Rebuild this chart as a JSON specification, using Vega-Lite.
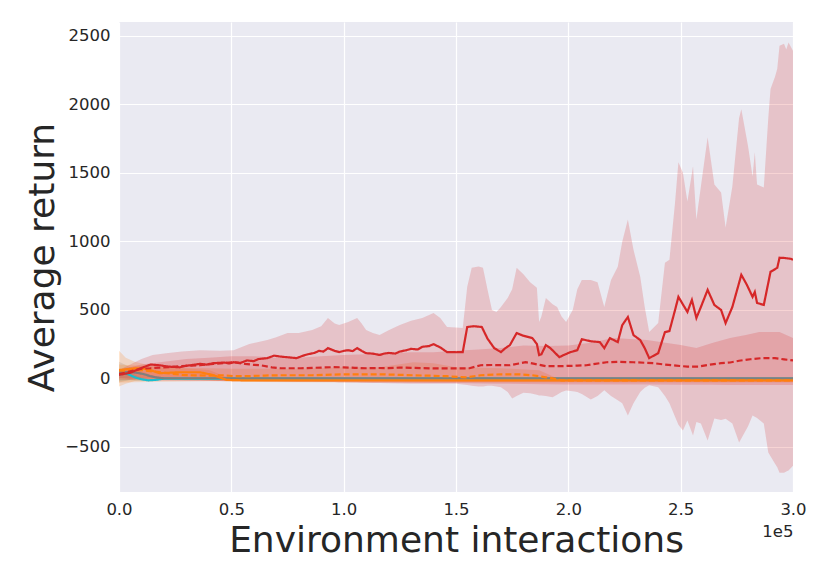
{
  "$schema": "https://vega.github.io/schema/vega-lite/v6.json",
  "width": 674,
  "height": 470,
  "autosize": {"type": "none"},
  "padding": {"left": 119, "top": 22, "right": 37, "bottom": 89},
  "background": "white",
  "datasets": {
    "bands": [
      {"s": "cyan", "x": 0.0, "lo": -20, "hi": 70},
      {"s": "cyan", "x": 0.05, "lo": -15, "hi": 40},
      {"s": "cyan", "x": 0.1, "lo": -20, "hi": 5},
      {"s": "cyan", "x": 0.15, "lo": -20, "hi": -8},
      {"s": "cyan", "x": 0.2, "lo": -5, "hi": 2},
      {"s": "cyan", "x": 3.0, "lo": -3, "hi": 3},
      {"s": "gray", "x": 0.0, "lo": -30, "hi": 120},
      {"s": "gray", "x": 0.05, "lo": -10, "hi": 80},
      {"s": "gray", "x": 0.1, "lo": 0, "hi": 50},
      {"s": "gray", "x": 0.15, "lo": -5, "hi": 20},
      {"s": "gray", "x": 0.2, "lo": -5, "hi": 5},
      {"s": "gray", "x": 3.0, "lo": -4, "hi": 4},
      {"s": "orange solid", "x": 0.0, "lo": -60, "hi": 200},
      {"s": "orange solid", "x": 0.03, "lo": -40, "hi": 150},
      {"s": "orange solid", "x": 0.07, "lo": -20, "hi": 120},
      {"s": "orange solid", "x": 0.12, "lo": -10, "hi": 100},
      {"s": "orange solid", "x": 0.18, "lo": -10, "hi": 80},
      {"s": "orange solid", "x": 0.25, "lo": -10, "hi": 75},
      {"s": "orange solid", "x": 0.32, "lo": -10, "hi": 70},
      {"s": "orange solid", "x": 0.4, "lo": -15, "hi": 60},
      {"s": "orange solid", "x": 0.45, "lo": -20, "hi": 30},
      {"s": "orange solid", "x": 0.5, "lo": -25, "hi": 0},
      {"s": "orange solid", "x": 0.6, "lo": -28, "hi": -5},
      {"s": "orange solid", "x": 1.0, "lo": -30, "hi": -5},
      {"s": "orange solid", "x": 2.0, "lo": -30, "hi": -5},
      {"s": "orange solid", "x": 3.0, "lo": -30, "hi": -5},
      {"s": "orange dashed", "x": 0.0, "lo": -30, "hi": 100},
      {"s": "orange dashed", "x": 0.2, "lo": -25, "hi": 80},
      {"s": "orange dashed", "x": 0.5, "lo": -20, "hi": 70},
      {"s": "orange dashed", "x": 0.8, "lo": -20, "hi": 70},
      {"s": "orange dashed", "x": 1.0, "lo": -20, "hi": 80},
      {"s": "orange dashed", "x": 1.16, "lo": -20, "hi": 81},
      {"s": "orange dashed", "x": 1.31, "lo": -22, "hi": 117},
      {"s": "orange dashed", "x": 1.4, "lo": -22, "hi": 110},
      {"s": "orange dashed", "x": 1.5, "lo": -25, "hi": 80},
      {"s": "orange dashed", "x": 1.7, "lo": -25, "hi": 73},
      {"s": "orange dashed", "x": 1.87, "lo": -25, "hi": 59},
      {"s": "orange dashed", "x": 1.95, "lo": -25, "hi": 0},
      {"s": "orange dashed", "x": 3.0, "lo": -25, "hi": -5},
      {"s": "red dashed", "x": 0.0, "lo": -10, "hi": 60},
      {"s": "red dashed", "x": 0.1, "lo": -15, "hi": 100},
      {"s": "red dashed", "x": 0.2, "lo": -18, "hi": 120},
      {"s": "red dashed", "x": 0.3, "lo": -20, "hi": 140},
      {"s": "red dashed", "x": 0.4, "lo": -20, "hi": 150},
      {"s": "red dashed", "x": 0.5, "lo": -22, "hi": 160},
      {"s": "red dashed", "x": 0.6, "lo": -22, "hi": 160},
      {"s": "red dashed", "x": 0.7, "lo": -24, "hi": 150},
      {"s": "red dashed", "x": 0.8, "lo": -25, "hi": 150},
      {"s": "red dashed", "x": 0.9, "lo": -26, "hi": 160},
      {"s": "red dashed", "x": 1.0, "lo": -28, "hi": 170},
      {"s": "red dashed", "x": 1.1, "lo": -30, "hi": 175},
      {"s": "red dashed", "x": 1.2, "lo": -30, "hi": 180},
      {"s": "red dashed", "x": 1.3, "lo": -32, "hi": 190},
      {"s": "red dashed", "x": 1.4, "lo": -34, "hi": 190},
      {"s": "red dashed", "x": 1.5, "lo": -35, "hi": 200},
      {"s": "red dashed", "x": 1.6, "lo": -38, "hi": 210},
      {"s": "red dashed", "x": 1.7, "lo": -40, "hi": 220},
      {"s": "red dashed", "x": 1.8, "lo": -42, "hi": 240},
      {"s": "red dashed", "x": 1.9, "lo": -44, "hi": 235},
      {"s": "red dashed", "x": 2.0, "lo": -45, "hi": 240},
      {"s": "red dashed", "x": 2.1, "lo": -45, "hi": 260},
      {"s": "red dashed", "x": 2.2, "lo": -46, "hi": 293},
      {"s": "red dashed", "x": 2.35, "lo": -46, "hi": 279},
      {"s": "red dashed", "x": 2.5, "lo": -48, "hi": 242},
      {"s": "red dashed", "x": 2.57, "lo": -48, "hi": 220},
      {"s": "red dashed", "x": 2.64, "lo": -48, "hi": 257},
      {"s": "red dashed", "x": 2.72, "lo": -50, "hi": 293},
      {"s": "red dashed", "x": 2.79, "lo": -50, "hi": 315},
      {"s": "red dashed", "x": 2.85, "lo": -50, "hi": 337},
      {"s": "red dashed", "x": 2.94, "lo": -50, "hi": 337},
      {"s": "red dashed", "x": 3.0, "lo": -50, "hi": 293},
      {"s": "red solid", "x": 0.0, "lo": 0, "hi": 60},
      {"s": "red solid", "x": 0.05, "lo": -5, "hi": 100},
      {"s": "red solid", "x": 0.1, "lo": -8, "hi": 140},
      {"s": "red solid", "x": 0.15, "lo": -10, "hi": 170},
      {"s": "red solid", "x": 0.21, "lo": -10, "hi": 183},
      {"s": "red solid", "x": 0.28, "lo": -12, "hi": 195},
      {"s": "red solid", "x": 0.36, "lo": -15, "hi": 205},
      {"s": "red solid", "x": 0.45, "lo": -18, "hi": 200},
      {"s": "red solid", "x": 0.51, "lo": -20, "hi": 205},
      {"s": "red solid", "x": 0.58, "lo": -20, "hi": 250},
      {"s": "red solid", "x": 0.66, "lo": -22, "hi": 279},
      {"s": "red solid", "x": 0.7, "lo": -22, "hi": 300},
      {"s": "red solid", "x": 0.75, "lo": -24, "hi": 330},
      {"s": "red solid", "x": 0.8, "lo": -25, "hi": 330},
      {"s": "red solid", "x": 0.86, "lo": -26, "hi": 352},
      {"s": "red solid", "x": 0.9, "lo": -28, "hi": 380},
      {"s": "red solid", "x": 0.93, "lo": -28, "hi": 440},
      {"s": "red solid", "x": 0.96, "lo": -28, "hi": 400},
      {"s": "red solid", "x": 0.98, "lo": -30, "hi": 389},
      {"s": "red solid", "x": 1.02, "lo": -30, "hi": 410},
      {"s": "red solid", "x": 1.06, "lo": -30, "hi": 440},
      {"s": "red solid", "x": 1.08, "lo": -32, "hi": 400},
      {"s": "red solid", "x": 1.1, "lo": -32, "hi": 352},
      {"s": "red solid", "x": 1.13, "lo": -34, "hi": 330},
      {"s": "red solid", "x": 1.16, "lo": -35, "hi": 315},
      {"s": "red solid", "x": 1.2, "lo": -36, "hi": 350},
      {"s": "red solid", "x": 1.25, "lo": -38, "hi": 389},
      {"s": "red solid", "x": 1.3, "lo": -40, "hi": 420},
      {"s": "red solid", "x": 1.35, "lo": -40, "hi": 440},
      {"s": "red solid", "x": 1.4, "lo": -40, "hi": 476},
      {"s": "red solid", "x": 1.43, "lo": -40, "hi": 440},
      {"s": "red solid", "x": 1.46, "lo": -40, "hi": 374},
      {"s": "red solid", "x": 1.5, "lo": -40, "hi": 370},
      {"s": "red solid", "x": 1.53, "lo": -45, "hi": 367},
      {"s": "red solid", "x": 1.55, "lo": -50, "hi": 667},
      {"s": "red solid", "x": 1.57, "lo": -55, "hi": 806},
      {"s": "red solid", "x": 1.6, "lo": -60, "hi": 815},
      {"s": "red solid", "x": 1.62, "lo": -60, "hi": 806},
      {"s": "red solid", "x": 1.64, "lo": -55, "hi": 650},
      {"s": "red solid", "x": 1.66, "lo": -55, "hi": 498},
      {"s": "red solid", "x": 1.68, "lo": -60, "hi": 484},
      {"s": "red solid", "x": 1.7, "lo": -66, "hi": 520},
      {"s": "red solid", "x": 1.73, "lo": -100, "hi": 586},
      {"s": "red solid", "x": 1.75, "lo": -147, "hi": 650},
      {"s": "red solid", "x": 1.77, "lo": -130, "hi": 806},
      {"s": "red solid", "x": 1.8, "lo": -105, "hi": 760},
      {"s": "red solid", "x": 1.83, "lo": -110, "hi": 700},
      {"s": "red solid", "x": 1.86, "lo": -120, "hi": 660},
      {"s": "red solid", "x": 1.87, "lo": -125, "hi": 411},
      {"s": "red solid", "x": 1.88, "lo": -125, "hi": 450},
      {"s": "red solid", "x": 1.9, "lo": -130, "hi": 586},
      {"s": "red solid", "x": 1.93, "lo": -139, "hi": 540},
      {"s": "red solid", "x": 1.95, "lo": -120, "hi": 520},
      {"s": "red solid", "x": 1.97, "lo": -100, "hi": 450},
      {"s": "red solid", "x": 1.99, "lo": -90, "hi": 411},
      {"s": "red solid", "x": 2.02, "lo": -95, "hi": 500},
      {"s": "red solid", "x": 2.04, "lo": -100, "hi": 650},
      {"s": "red solid", "x": 2.06, "lo": -115, "hi": 718},
      {"s": "red solid", "x": 2.1, "lo": -155, "hi": 718},
      {"s": "red solid", "x": 2.13, "lo": -130, "hi": 700},
      {"s": "red solid", "x": 2.16, "lo": -88, "hi": 520},
      {"s": "red solid", "x": 2.19, "lo": -130, "hi": 718},
      {"s": "red solid", "x": 2.22, "lo": -160, "hi": 814},
      {"s": "red solid", "x": 2.24, "lo": -183, "hi": 997},
      {"s": "red solid", "x": 2.265, "lo": -271, "hi": 1158},
      {"s": "red solid", "x": 2.29, "lo": -183, "hi": 938},
      {"s": "red solid", "x": 2.32, "lo": -100, "hi": 740},
      {"s": "red solid", "x": 2.34, "lo": -70, "hi": 520},
      {"s": "red solid", "x": 2.36, "lo": -51, "hi": 337},
      {"s": "red solid", "x": 2.4, "lo": -66, "hi": 403},
      {"s": "red solid", "x": 2.43, "lo": -130, "hi": 843},
      {"s": "red solid", "x": 2.45, "lo": -183, "hi": 865},
      {"s": "red solid", "x": 2.475, "lo": -280, "hi": 1283},
      {"s": "red solid", "x": 2.49, "lo": -340, "hi": 1576},
      {"s": "red solid", "x": 2.51, "lo": -381, "hi": 1500},
      {"s": "red solid", "x": 2.53, "lo": -308, "hi": 1290},
      {"s": "red solid", "x": 2.555, "lo": -418, "hi": 1547},
      {"s": "red solid", "x": 2.57, "lo": -320, "hi": 1158},
      {"s": "red solid", "x": 2.59, "lo": -330, "hi": 1400},
      {"s": "red solid", "x": 2.62, "lo": -454, "hi": 1759},
      {"s": "red solid", "x": 2.65, "lo": -293, "hi": 1415},
      {"s": "red solid", "x": 2.68, "lo": -305, "hi": 1356},
      {"s": "red solid", "x": 2.7, "lo": -295, "hi": 1100},
      {"s": "red solid", "x": 2.73, "lo": -330, "hi": 1400},
      {"s": "red solid", "x": 2.76, "lo": -469, "hi": 1900},
      {"s": "red solid", "x": 2.77, "lo": -440, "hi": 1964},
      {"s": "red solid", "x": 2.8, "lo": -350, "hi": 1693},
      {"s": "red solid", "x": 2.82, "lo": -271, "hi": 1473},
      {"s": "red solid", "x": 2.83, "lo": -280, "hi": 1650},
      {"s": "red solid", "x": 2.84, "lo": -290, "hi": 1415},
      {"s": "red solid", "x": 2.87, "lo": -330, "hi": 1393},
      {"s": "red solid", "x": 2.89, "lo": -542, "hi": 1900},
      {"s": "red solid", "x": 2.9, "lo": -570, "hi": 2111},
      {"s": "red solid", "x": 2.92, "lo": -623, "hi": 2200},
      {"s": "red solid", "x": 2.93, "lo": -650, "hi": 2258},
      {"s": "red solid", "x": 2.94, "lo": -689, "hi": 2427},
      {"s": "red solid", "x": 2.96, "lo": -690, "hi": 2441},
      {"s": "red solid", "x": 2.97, "lo": -680, "hi": 2400},
      {"s": "red solid", "x": 2.98, "lo": -674, "hi": 2450},
      {"s": "red solid", "x": 3.0, "lo": -638, "hi": 2390}
    ],
    "lines": [
      {"s": "cyan", "x": 0.0, "y": 25},
      {"s": "cyan", "x": 0.02, "y": 35},
      {"s": "cyan", "x": 0.04, "y": 30},
      {"s": "cyan", "x": 0.07, "y": 7},
      {"s": "cyan", "x": 0.1, "y": -7},
      {"s": "cyan", "x": 0.13, "y": -15},
      {"s": "cyan", "x": 0.16, "y": -12},
      {"s": "cyan", "x": 0.2, "y": -3},
      {"s": "cyan", "x": 3.0, "y": -3},
      {"s": "gray", "x": 0.0, "y": 45},
      {"s": "gray", "x": 0.05, "y": 45},
      {"s": "gray", "x": 0.08, "y": 40},
      {"s": "gray", "x": 0.11, "y": 30},
      {"s": "gray", "x": 0.14, "y": 15},
      {"s": "gray", "x": 0.17, "y": 5},
      {"s": "gray", "x": 0.2, "y": 0},
      {"s": "gray", "x": 3.0, "y": 0},
      {"s": "orange dashed", "x": 0.0, "y": 55},
      {"s": "orange dashed", "x": 0.1, "y": 60},
      {"s": "orange dashed", "x": 0.2, "y": 40},
      {"s": "orange dashed", "x": 0.28, "y": 25},
      {"s": "orange dashed", "x": 0.32, "y": 22},
      {"s": "orange dashed", "x": 0.4, "y": 20},
      {"s": "orange dashed", "x": 0.46, "y": 22},
      {"s": "orange dashed", "x": 0.52, "y": 15},
      {"s": "orange dashed", "x": 0.57, "y": 15},
      {"s": "orange dashed", "x": 0.65, "y": 20},
      {"s": "orange dashed", "x": 0.72, "y": 22},
      {"s": "orange dashed", "x": 0.86, "y": 22},
      {"s": "orange dashed", "x": 1.01, "y": 29},
      {"s": "orange dashed", "x": 1.16, "y": 29},
      {"s": "orange dashed", "x": 1.25, "y": 25},
      {"s": "orange dashed", "x": 1.31, "y": 22},
      {"s": "orange dashed", "x": 1.4, "y": 18},
      {"s": "orange dashed", "x": 1.46, "y": 15},
      {"s": "orange dashed", "x": 1.52, "y": 8},
      {"s": "orange dashed", "x": 1.55, "y": 7},
      {"s": "orange dashed", "x": 1.58, "y": 15},
      {"s": "orange dashed", "x": 1.61, "y": 22},
      {"s": "orange dashed", "x": 1.7, "y": 29},
      {"s": "orange dashed", "x": 1.78, "y": 29},
      {"s": "orange dashed", "x": 1.84, "y": 22},
      {"s": "orange dashed", "x": 1.87, "y": 15},
      {"s": "orange dashed", "x": 1.9, "y": 7},
      {"s": "orange dashed", "x": 1.93, "y": 0},
      {"s": "orange dashed", "x": 1.97, "y": -15},
      {"s": "orange dashed", "x": 3.0, "y": -15},
      {"s": "orange solid", "x": 0.0, "y": 60},
      {"s": "orange solid", "x": 0.03, "y": 65},
      {"s": "orange solid", "x": 0.07, "y": 73},
      {"s": "orange solid", "x": 0.11, "y": 70},
      {"s": "orange solid", "x": 0.14, "y": 59},
      {"s": "orange solid", "x": 0.18, "y": 37},
      {"s": "orange solid", "x": 0.22, "y": 40},
      {"s": "orange solid", "x": 0.27, "y": 44},
      {"s": "orange solid", "x": 0.36, "y": 44},
      {"s": "orange solid", "x": 0.4, "y": 30},
      {"s": "orange solid", "x": 0.42, "y": 22},
      {"s": "orange solid", "x": 0.45, "y": 5},
      {"s": "orange solid", "x": 0.48, "y": -12},
      {"s": "orange solid", "x": 0.55, "y": -15},
      {"s": "orange solid", "x": 3.0, "y": -15},
      {"s": "red dashed", "x": 0.0, "y": 30},
      {"s": "red dashed", "x": 0.05, "y": 50},
      {"s": "red dashed", "x": 0.1, "y": 70},
      {"s": "red dashed", "x": 0.14, "y": 73},
      {"s": "red dashed", "x": 0.18, "y": 78},
      {"s": "red dashed", "x": 0.22, "y": 81},
      {"s": "red dashed", "x": 0.28, "y": 88},
      {"s": "red dashed", "x": 0.32, "y": 92},
      {"s": "red dashed", "x": 0.36, "y": 95},
      {"s": "red dashed", "x": 0.42, "y": 105},
      {"s": "red dashed", "x": 0.47, "y": 112},
      {"s": "red dashed", "x": 0.51, "y": 117},
      {"s": "red dashed", "x": 0.56, "y": 105},
      {"s": "red dashed", "x": 0.6, "y": 98},
      {"s": "red dashed", "x": 0.63, "y": 95},
      {"s": "red dashed", "x": 0.68, "y": 80},
      {"s": "red dashed", "x": 0.72, "y": 73},
      {"s": "red dashed", "x": 0.81, "y": 73},
      {"s": "red dashed", "x": 0.86, "y": 76},
      {"s": "red dashed", "x": 0.95, "y": 81},
      {"s": "red dashed", "x": 1.0, "y": 80},
      {"s": "red dashed", "x": 1.05, "y": 76},
      {"s": "red dashed", "x": 1.1, "y": 73},
      {"s": "red dashed", "x": 1.15, "y": 75},
      {"s": "red dashed", "x": 1.2, "y": 74},
      {"s": "red dashed", "x": 1.25, "y": 78},
      {"s": "red dashed", "x": 1.3, "y": 76},
      {"s": "red dashed", "x": 1.4, "y": 72},
      {"s": "red dashed", "x": 1.5, "y": 72},
      {"s": "red dashed", "x": 1.56, "y": 73},
      {"s": "red dashed", "x": 1.61, "y": 95},
      {"s": "red dashed", "x": 1.66, "y": 97},
      {"s": "red dashed", "x": 1.74, "y": 95},
      {"s": "red dashed", "x": 1.78, "y": 108},
      {"s": "red dashed", "x": 1.81, "y": 117},
      {"s": "red dashed", "x": 1.85, "y": 105},
      {"s": "red dashed", "x": 1.9, "y": 88},
      {"s": "red dashed", "x": 1.95, "y": 88},
      {"s": "red dashed", "x": 2.04, "y": 92},
      {"s": "red dashed", "x": 2.08, "y": 95},
      {"s": "red dashed", "x": 2.12, "y": 105},
      {"s": "red dashed", "x": 2.17, "y": 117},
      {"s": "red dashed", "x": 2.22, "y": 120},
      {"s": "red dashed", "x": 2.29, "y": 117},
      {"s": "red dashed", "x": 2.38, "y": 110},
      {"s": "red dashed", "x": 2.43, "y": 100},
      {"s": "red dashed", "x": 2.48, "y": 92},
      {"s": "red dashed", "x": 2.53, "y": 85},
      {"s": "red dashed", "x": 2.58, "y": 85},
      {"s": "red dashed", "x": 2.63, "y": 100},
      {"s": "red dashed", "x": 2.68, "y": 110},
      {"s": "red dashed", "x": 2.72, "y": 115},
      {"s": "red dashed", "x": 2.76, "y": 128},
      {"s": "red dashed", "x": 2.81, "y": 139},
      {"s": "red dashed", "x": 2.86, "y": 147},
      {"s": "red dashed", "x": 2.92, "y": 147},
      {"s": "red dashed", "x": 2.96, "y": 138},
      {"s": "red dashed", "x": 3.0, "y": 130},
      {"s": "red solid", "x": 0.0, "y": 25},
      {"s": "red solid", "x": 0.05, "y": 40},
      {"s": "red solid", "x": 0.1, "y": 75},
      {"s": "red solid", "x": 0.14, "y": 100},
      {"s": "red solid", "x": 0.18, "y": 95},
      {"s": "red solid", "x": 0.22, "y": 85},
      {"s": "red solid", "x": 0.27, "y": 80},
      {"s": "red solid", "x": 0.3, "y": 92},
      {"s": "red solid", "x": 0.32, "y": 95},
      {"s": "red solid", "x": 0.36, "y": 105},
      {"s": "red solid", "x": 0.39, "y": 100},
      {"s": "red solid", "x": 0.42, "y": 110},
      {"s": "red solid", "x": 0.47, "y": 115},
      {"s": "red solid", "x": 0.49, "y": 108},
      {"s": "red solid", "x": 0.51, "y": 117},
      {"s": "red solid", "x": 0.54, "y": 112},
      {"s": "red solid", "x": 0.57, "y": 130},
      {"s": "red solid", "x": 0.6, "y": 125},
      {"s": "red solid", "x": 0.62, "y": 140},
      {"s": "red solid", "x": 0.66, "y": 147},
      {"s": "red solid", "x": 0.69, "y": 165},
      {"s": "red solid", "x": 0.72, "y": 158},
      {"s": "red solid", "x": 0.74, "y": 155},
      {"s": "red solid", "x": 0.79, "y": 147},
      {"s": "red solid", "x": 0.82, "y": 165},
      {"s": "red solid", "x": 0.84, "y": 175},
      {"s": "red solid", "x": 0.87, "y": 185},
      {"s": "red solid", "x": 0.89, "y": 200},
      {"s": "red solid", "x": 0.91, "y": 195},
      {"s": "red solid", "x": 0.93, "y": 220},
      {"s": "red solid", "x": 0.96, "y": 200},
      {"s": "red solid", "x": 0.98, "y": 191},
      {"s": "red solid", "x": 1.0, "y": 200},
      {"s": "red solid", "x": 1.02, "y": 205},
      {"s": "red solid", "x": 1.04, "y": 198},
      {"s": "red solid", "x": 1.06, "y": 220},
      {"s": "red solid", "x": 1.08, "y": 200},
      {"s": "red solid", "x": 1.1, "y": 183},
      {"s": "red solid", "x": 1.13, "y": 180},
      {"s": "red solid", "x": 1.16, "y": 170},
      {"s": "red solid", "x": 1.18, "y": 180},
      {"s": "red solid", "x": 1.2, "y": 185},
      {"s": "red solid", "x": 1.23, "y": 180},
      {"s": "red solid", "x": 1.25, "y": 195},
      {"s": "red solid", "x": 1.28, "y": 205},
      {"s": "red solid", "x": 1.3, "y": 215},
      {"s": "red solid", "x": 1.33, "y": 210},
      {"s": "red solid", "x": 1.35, "y": 230},
      {"s": "red solid", "x": 1.38, "y": 235},
      {"s": "red solid", "x": 1.4, "y": 249},
      {"s": "red solid", "x": 1.43, "y": 225},
      {"s": "red solid", "x": 1.46, "y": 191},
      {"s": "red solid", "x": 1.5, "y": 190},
      {"s": "red solid", "x": 1.53, "y": 191},
      {"s": "red solid", "x": 1.55, "y": 374},
      {"s": "red solid", "x": 1.58, "y": 380},
      {"s": "red solid", "x": 1.615, "y": 374},
      {"s": "red solid", "x": 1.64, "y": 290},
      {"s": "red solid", "x": 1.67, "y": 220},
      {"s": "red solid", "x": 1.7, "y": 191},
      {"s": "red solid", "x": 1.72, "y": 220},
      {"s": "red solid", "x": 1.74, "y": 242},
      {"s": "red solid", "x": 1.77, "y": 330},
      {"s": "red solid", "x": 1.8, "y": 310},
      {"s": "red solid", "x": 1.84, "y": 293},
      {"s": "red solid", "x": 1.86, "y": 250},
      {"s": "red solid", "x": 1.87, "y": 169},
      {"s": "red solid", "x": 1.88, "y": 175},
      {"s": "red solid", "x": 1.9, "y": 242},
      {"s": "red solid", "x": 1.92, "y": 220},
      {"s": "red solid", "x": 1.96, "y": 154},
      {"s": "red solid", "x": 1.98, "y": 170},
      {"s": "red solid", "x": 2.01, "y": 191},
      {"s": "red solid", "x": 2.04, "y": 205},
      {"s": "red solid", "x": 2.06, "y": 285},
      {"s": "red solid", "x": 2.1, "y": 270},
      {"s": "red solid", "x": 2.14, "y": 264},
      {"s": "red solid", "x": 2.16, "y": 220},
      {"s": "red solid", "x": 2.185, "y": 293},
      {"s": "red solid", "x": 2.22, "y": 264},
      {"s": "red solid", "x": 2.24, "y": 388},
      {"s": "red solid", "x": 2.265, "y": 447},
      {"s": "red solid", "x": 2.29, "y": 315},
      {"s": "red solid", "x": 2.32, "y": 279},
      {"s": "red solid", "x": 2.34, "y": 220},
      {"s": "red solid", "x": 2.36, "y": 147},
      {"s": "red solid", "x": 2.4, "y": 183},
      {"s": "red solid", "x": 2.43, "y": 337},
      {"s": "red solid", "x": 2.45, "y": 345},
      {"s": "red solid", "x": 2.475, "y": 498},
      {"s": "red solid", "x": 2.49, "y": 594},
      {"s": "red solid", "x": 2.53, "y": 484},
      {"s": "red solid", "x": 2.55, "y": 572},
      {"s": "red solid", "x": 2.57, "y": 440},
      {"s": "red solid", "x": 2.59, "y": 520},
      {"s": "red solid", "x": 2.62, "y": 645},
      {"s": "red solid", "x": 2.65, "y": 535},
      {"s": "red solid", "x": 2.68, "y": 498},
      {"s": "red solid", "x": 2.7, "y": 403},
      {"s": "red solid", "x": 2.73, "y": 520},
      {"s": "red solid", "x": 2.77, "y": 755},
      {"s": "red solid", "x": 2.795, "y": 681},
      {"s": "red solid", "x": 2.82, "y": 594},
      {"s": "red solid", "x": 2.83, "y": 630},
      {"s": "red solid", "x": 2.84, "y": 550},
      {"s": "red solid", "x": 2.87, "y": 535},
      {"s": "red solid", "x": 2.9, "y": 777},
      {"s": "red solid", "x": 2.93, "y": 806},
      {"s": "red solid", "x": 2.94, "y": 880},
      {"s": "red solid", "x": 2.96, "y": 878},
      {"s": "red solid", "x": 2.99, "y": 872},
      {"s": "red solid", "x": 3.0, "y": 865}
    ]
  },
  "layer": [
    {
      "data": {"name": "bands"},
      "mark": {"type": "area", "opacity": 0.2, "clip": true},
      "encoding": {
        "x": {
          "field": "x",
          "type": "quantitative",
          "scale": {"domain": [0, 3], "nice": false, "zero": false},
          "axis": {
            "values": [0, 0.5, 1, 1.5, 2, 2.5, 3],
            "format": ".1f",
            "labelPadding": 9,
            "labelFlush": false,
            "titleBaseline": "alphabetic",
            "titleY": 59
          },
          "title": "Environment interactions"
        },
        "y": {
          "field": "lo",
          "type": "quantitative",
          "scale": {"domain": [-830, 2600], "nice": false, "zero": false},
          "axis": {
            "values": [-500, 0, 500, 1000, 1500, 2000, 2500],
            "format": "d",
            "labelPadding": 9,
            "titleBaseline": "alphabetic",
            "titleX": -66
          },
          "title": "Average return"
        },
        "y2": {"field": "hi"},
        "color": {
          "field": "s",
          "type": "nominal",
          "scale": {
            "domain": ["cyan", "gray", "orange dashed", "orange solid", "red dashed", "red solid"],
            "range": ["#17becf", "#7f7f7f", "#ff7f0e", "#ff7f0e", "#d62728", "#d62728"]
          },
          "legend": null
        }
      }
    },
    {
      "data": {"name": "lines"},
      "mark": {"type": "line", "strokeWidth": 2.2, "clip": true},
      "encoding": {
        "x": {
          "field": "x",
          "type": "quantitative",
          "scale": {"domain": [0, 3], "nice": false, "zero": false},
          "axis": {
            "orient": "bottom",
            "labels": false,
            "grid": false,
            "title": "1e5",
            "titleFontSize": 16.5,
            "titleAnchor": "end",
            "titleAlign": "right",
            "titleBaseline": "alphabetic",
            "titleX": 674,
            "titleY": 44
          }
        },
        "y": {"field": "y", "type": "quantitative", "title": "Average return"},
        "color": {
          "field": "s",
          "type": "nominal",
          "legend": null
        },
        "strokeDash": {
          "field": "s",
          "type": "nominal",
          "scale": {
            "domain": ["cyan", "gray", "orange dashed", "orange solid", "red dashed", "red solid"],
            "range": [[1, 0], [1, 0], [6, 3], [1, 0], [6, 3], [1, 0]]
          },
          "legend": null
        }
      }
    }
  ],
  "resolve": {"scale": {"x": "independent"}, "axis": {"x": "independent"}},
  "config": {
    "view": {"fill": "#EAEAF2", "stroke": null},
    "axis": {
      "gridColor": "white",
      "gridWidth": 1.2,
      "domain": false,
      "ticks": false,
      "labelFont": "DejaVu Sans",
      "labelFontSize": 16.5,
      "labelColor": "#262626",
      "labelOverlap": false,
      "titleFont": "DejaVu Sans",
      "titleFontSize": 36,
      "titleFontWeight": "normal",
      "titleColor": "#262626"
    }
  }
}
